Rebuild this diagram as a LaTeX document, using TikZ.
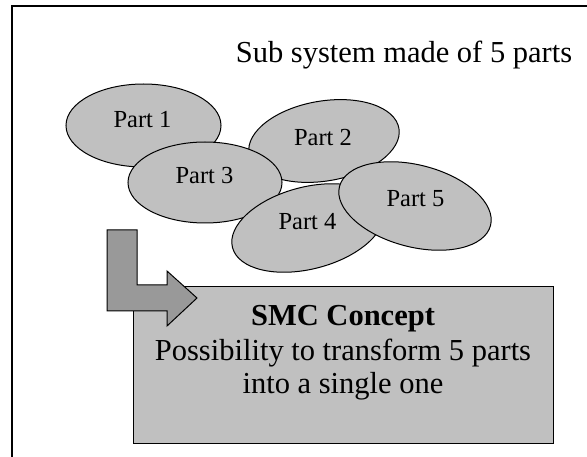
\documentclass[tikz,border=0pt]{standalone}
\usepackage{fontspec}
\setmainfont{Liberation Serif}
\usetikzlibrary{shapes.geometric}
\definecolor{partgray}{HTML}{C0C0C0}
\definecolor{arrowgray}{HTML}{999999}
\tikzset{
  partshape/.style={ellipse, draw=black, line width=1pt, fill=partgray, inner sep=0pt},
  partlabel/.style={font=\fontsize{24.5}{28}\selectfont, anchor=base, inner sep=0pt},
  bigtext/.style={font=\fontsize{30.5}{34}\selectfont, anchor=base, inner sep=0pt},
  conceptbox/.style={rectangle, draw=black, line width=1pt, fill=partgray, inner sep=0pt,
    minimum width=420pt, minimum height=156pt},
  blockarrow/.style={draw=black, line width=1pt, fill=arrowgray, line join=miter}
}
\begin{document}
\begin{tikzpicture}[x=1pt,y=-1pt]
\useasboundingbox (0,0) rectangle (587,457);
\clip (0,0) rectangle (587,457);
% outer frame
\draw[line width=1.8pt] (12,6) rectangle (600,470);
% parts
\node[partshape, minimum width=155pt, minimum height=83pt] (p1) at (143.5,125.5) {};
\node[partlabel] (t1) at (142.5,128) {Part 1};
\node[partshape, minimum width=152pt, minimum height=80pt, rotate=9.5] (p2) at (324,141) {};
\node[partlabel] (t2) at (323,146) {Part 2};
\node[partshape, minimum width=154pt, minimum height=81pt] (p3) at (205,182.5) {};
\node[partlabel] (t3) at (204.5,184) {Part 3};
\node[partshape, minimum width=156pt, minimum height=82pt, rotate=14.5] (p4) at (308,228) {};
\node[partlabel] (t4) at (307.5,230) {Part 4};
\node[partshape, minimum width=156pt, minimum height=82pt, rotate=-14.5] (p5) at (415,206) {};
\node[partlabel] (t5) at (415.5,207) {Part 5};
% title
\node[bigtext] (title) at (404,63) {Sub system made of 5 parts};
% concept box
\node[conceptbox] (box) at (343,365) {};
% bent block arrow
\draw[blockarrow] (107,230) -- (137,230) -- (137,285) -- (167,285) -- (167,271)
  -- (197,298) -- (167,326) -- (167,311) -- (107,311) -- cycle;
% box text
\node[bigtext] (c1) at (343,326) {\bfseries SMC Concept};
\node[bigtext] (c2) at (343,360) {Possibility to transform 5 parts};
\node[bigtext] (c3) at (343,394) {into a single one};
\end{tikzpicture}
\end{document}
